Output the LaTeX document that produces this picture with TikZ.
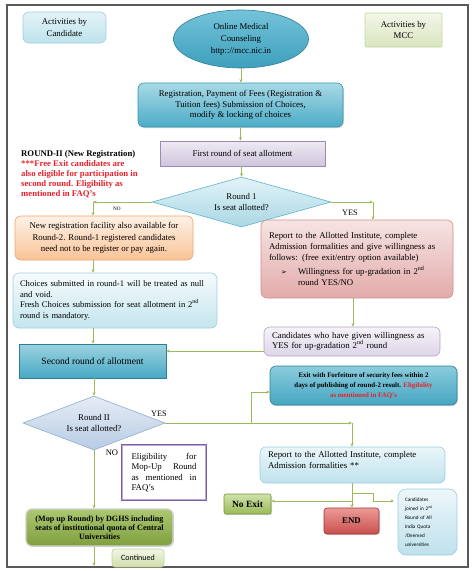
\documentclass[tikz,border=0pt]{standalone}
\usepackage{fontspec}
\setmainfont{Liberation Serif}
\newfontfamily\calibri{Carlito}
\newfontfamily\dejavu{DejaVu Sans}
\usetikzlibrary{arrows.meta,shapes.geometric,shadows}

\definecolor{conn}{HTML}{9BBB59}
\definecolor{framec}{HTML}{595959}
\definecolor{candFa}{HTML}{E4F3F8}\definecolor{candFb}{HTML}{BDE2EC}\definecolor{candD}{HTML}{9CCFDE}
\definecolor{ellFa}{HTML}{74C3DA}\definecolor{ellFb}{HTML}{3E9FBC}\definecolor{ellD}{HTML}{2F7F96}
\definecolor{mccFa}{HTML}{F2F6E8}\definecolor{mccFb}{HTML}{D9E5BF}\definecolor{mccD}{HTML}{C4D79F}
\definecolor{regFa}{HTML}{A9D9E7}\definecolor{regFb}{HTML}{4BACC6}\definecolor{regD}{HTML}{3A93AD}
\definecolor{firstFa}{HTML}{EEEAF3}\definecolor{firstFb}{HTML}{CFC5DD}\definecolor{firstD}{HTML}{9C8CB4}
\definecolor{daFa}{HTML}{E3F3F7}\definecolor{daFb}{HTML}{A9D7E4}\definecolor{daD}{HTML}{5FB4CC}
\definecolor{orFa}{HTML}{FEF1E6}\definecolor{orFb}{HTML}{FAC396}\definecolor{orD}{HTML}{F2A46B}
\definecolor{chFa}{HTML}{F6FBFD}\definecolor{chFb}{HTML}{C4E5EE}\definecolor{chD}{HTML}{9DD0DE}
\definecolor{redFa}{HTML}{F6E4E3}\definecolor{redFb}{HTML}{E2ABAA}\definecolor{redD}{HTML}{D28D8B}
\definecolor{purFa}{HTML}{F6F3F9}\definecolor{purFb}{HTML}{DDD5E7}\definecolor{purD}{HTML}{B4A4C8}
\definecolor{secFa}{HTML}{9CD2E1}\definecolor{secFb}{HTML}{48A9C4}\definecolor{secD}{HTML}{2E7F96}
\definecolor{dbFa}{HTML}{E5ECF5}\definecolor{dbFb}{HTML}{B8CCE4}\definecolor{dbD}{HTML}{8FADD2}
\definecolor{exFa}{HTML}{8BCCDD}\definecolor{exFb}{HTML}{45A6C1}\definecolor{exD}{HTML}{2E7F96}
\definecolor{repFa}{HTML}{EAF6F9}\definecolor{repFb}{HTML}{BFE2EC}\definecolor{repD}{HTML}{9ACFDE}
\definecolor{noFa}{HTML}{CFE1AA}\definecolor{noFb}{HTML}{9BBB59}\definecolor{noD}{HTML}{76923C}
\definecolor{endFa}{HTML}{EC9A97}\definecolor{endFb}{HTML}{C9504D}\definecolor{endD}{HTML}{9B3533}
\definecolor{cjFa}{HTML}{EEF7FB}\definecolor{cjFb}{HTML}{BEE1EC}\definecolor{cjD}{HTML}{9ACFDE}
\definecolor{eligD}{HTML}{7E5FA3}\definecolor{eligI}{HTML}{B9A9CF}
\definecolor{mopFa}{HTML}{ACC872}\definecolor{mopFb}{HTML}{7F9F3E}\definecolor{mopD}{HTML}{D0D0D0}
\definecolor{contFa}{HTML}{F1F6E7}\definecolor{contFb}{HTML}{CEDEAA}\definecolor{contD}{HTML}{C0D496}
\definecolor{redt}{HTML}{E8202A}

\begin{document}
\begin{tikzpicture}[x=1pt,y=-1pt,
  font=\fontsize{8.8}{10.4}\selectfont,
  wh/.style 2 args={minimum width=#1, minimum height=#2},
  base/.style={draw, line width=0.6pt, rounded corners=6pt, inner sep=0pt, align=center, text=black},
  shad/.style={drop shadow={shadow xshift=1pt, shadow yshift=-1.2pt, opacity=0.25, fill=black!60}},
  grad/.style n args={3}{top color=#1, bottom color=#2, draw=#3},
  arr/.style={draw=conn, line width=0.6pt, -{Stealth[length=3.5pt,width=3pt]}},
  lbl/.style={inner sep=0pt}
]
\useasboundingbox (0,0) rectangle (474,571);
\draw[line width=1.1pt, draw=framec] (7,5) rectangle (468,567);

% top row
\node[base, grad={candFa}{candFb}{candD}, wh={83}{31}, font=\fontsize{8.8}{11.5}\selectfont] (cand) at (64.5,27.5) {Activities by\\Candidate};
\node[ellipse, draw, line width=0.6pt, inner sep=0pt, align=center, grad={ellFa}{ellFb}{ellD}, wh={135}{58}, font=\fontsize{8.8}{12}\selectfont] (online) at (241,39) {Online Medical\\Counseling\\http:://mcc.nic.in};
\node[base, rounded corners=1pt, grad={mccFa}{mccFb}{mccD}, wh={77}{34}, font=\fontsize{8.8}{11.5}\selectfont] (mcc) at (403.5,30) {Activities by\\MCC};

\node[base, shad, grad={regFa}{regFb}{regD}, wh={205}{44}] (reg) at (240.5,105) {Registration, Payment of Fees (Registration \&\\Tuition fees) Submission of Choices,\\modify \& locking of choices};
\node[base, rounded corners=0pt, shad, grad={firstFa}{firstFb}{firstD}, wh={165}{25}] (first) at (242.5,153.5) {First round of seat allotment};

\node[diamond, draw, line width=0.6pt, inner sep=0pt, align=center, aspect=3.58, grad={daFa}{daFb}{daD}, wh={179}{50}] (d1) at (241.5,202) {Round 1\\Is seat allotted?};

% note
\node[lbl, anchor=north west, align=left, font=\bfseries\fontsize{8.7}{10}\selectfont] (note) at (21,150) {ROUND-II (New Registration)\\\textcolor{redt}{***Free Exit candidates are}\\\textcolor{redt}{also eligible for participation in}\\\textcolor{redt}{second round. Eligibility as}\\\textcolor{redt}{mentioned in FAQ’s}};

\node[base, grad={orFa}{orFb}{orD}, wh={178}{44}, font=\fontsize{8.8}{11.3}\selectfont] (newreg) at (104,238) {New registration facility also available for\\Round-2. Round-1 registered candidates\\need not to be register or pay again.};

\node[base, grad={chFa}{chFb}{chD}, wh={204}{55}, text width=190, align=left, font=\fontsize{8.6}{10.4}\selectfont] (choices) at (115,300.5) {Choices submitted in round-1 will be treated as null\\and void.\\Fresh Choices submission for seat allotment in 2\textsuperscript{nd}\\round is mandatory.};

\node[base, grad={redFa}{redFb}{redD}, wh={192}{78}, text width=176, align=left, font=\fontsize{8.8}{11}\selectfont] (rep1) at (357,259) {Report to the Allotted Institute, complete\\Admission formalities and give willingness as\\follows: (free exit/entry option available)\\[3pt]\hspace*{12pt}\makebox[17pt][l]{\dejavu\fontsize{7}{8}\selectfont ➢}Willingness for up-gradation in 2\textsuperscript{nd}\\\hspace*{29pt}round YES/NO};

\node[base, grad={purFa}{purFb}{purD}, wh={176}{29}, text width=160, align=left] (will) at (352,341.5) {Candidates who have given willingness as\\YES for up-gradation 2\textsuperscript{nd} round};

\node[base, rounded corners=0pt, shad, grad={secFa}{secFb}{secD}, wh={147}{34}, font=\fontsize{9.6}{11}\selectfont] (second) at (92.5,361) {Second round of allotment};

\node[diamond, draw, line width=0.6pt, inner sep=0pt, align=center, aspect=2.63, grad={dbFa}{dbFb}{dbD}, wh={142}{54}] (d2) at (94,423) {Round II\\Is seat allotted?};

\node[base, shad, grad={exFa}{exFb}{exD}, wh={187}{39}, font=\bfseries\fontsize{6.9}{10}\selectfont] (exit) at (363.5,385.5) {Exit with Forfeiture of security fees within 2\\days of publishing of round-2 result. \textcolor{redt}{Eligibility}\\\textcolor{redt}{as mentioned in FAQ’s}};

\node[base, grad={repFa}{repFb}{repD}, wh={185}{36}, text width=169, align=left] (rep2) at (352.5,465) {Report to the Allotted Institute, complete\\Admission formalities **\\\mbox{}};

\node[base, rounded corners=2pt, shad, grad={noFa}{noFb}{noD}, wh={47}{20}, font=\bfseries\fontsize{9.5}{11}\selectfont] (noexit) at (247.5,504) {No Exit};
\node[base, rounded corners=3pt, shad, grad={endFa}{endFb}{endD}, wh={55}{26}, font=\bfseries\fontsize{8.8}{10}\selectfont] (end) at (351.5,521) {END};

\node[base, rounded corners=8pt, grad={cjFa}{cjFb}{cjD}, wh={59}{66}, text width=45, align=left, font=\calibri\fontsize{5.2}{9}\selectfont] (cjoin) at (427.5,522) {Candidates\\joined in 2\textsuperscript{nd}\\Round of All\\India Quota\\/Deemed\\universities};

\node[draw=eligD, line width=2.2pt, fill=white, inner sep=0pt, wh={84}{55}, text width=65, align=left] (elig) at (164,472.5) {Eligibility\hfill for\\Mop-Up\hfill Round\\as\hfill mentioned\hfill in\\FAQ’s};
\draw[eligI, line width=0.5pt] ([xshift=1.6pt,yshift=-1.6pt]elig.north west) rectangle ([xshift=-1.6pt,yshift=1.6pt]elig.south east);

\node[base, draw=mopD, line width=1.2pt, shad, top color=mopFa, bottom color=mopFb, wh={147}{37}, font=\bfseries\fontsize{8.1}{9.2}\selectfont] (mop) at (99.5,527.5) {(Mop up Round) by DGHS including\\seats of institutional quota of Central\\Universities};

\node[base, rounded corners=3pt, grad={contFa}{contFb}{contD}, wh={52}{18}, font=\calibri\fontsize{8}{9}\selectfont] (cont) at (138,558) {Continued};

% labels
\node[lbl, font=\fontsize{5.2}{6}\selectfont] (no1) at (117,209) {NO};
\node[lbl, font=\fontsize{8.3}{9}\selectfont] (yes1) at (350,213) {YES};
\node[lbl, font=\fontsize{8.3}{9}\selectfont] (yes2) at (159,414) {YES};
\node[lbl, font=\fontsize{8.5}{9}\selectfont] (no2) at (112,453) {NO};

% coordinates
\coordinate (n1) at (93,202);
\coordinate (y1) at (373,202);
\coordinate (rx) at (353,0);
\coordinate (wy) at (0,351);
\coordinate (y2) at (352,423);
\coordinate (b2) at (251,423);
\coordinate (ey) at (0,392);
\coordinate (rx2) at (352,0);
\coordinate (ny) at (0,501);
\coordinate (by) at (0,493);
\coordinate (kx) at (373,0);
\coordinate (cjin) at (394,501);
\coordinate (mopend) at (94,566);

% connectors
\draw[arr] (online.south) -- (online.south |- reg.north);
\draw[arr] (reg.south) -- (reg.south |- first.north);
\draw[arr] (d1.north |- first.south) -- (d1.north);
\draw[arr] (d1.west) -- (n1);
\draw[arr] (n1) -- (n1 |- newreg.north);
\draw[arr] (d1.east) -- (y1);
\draw[arr] (y1) -- (y1 |- rep1.north);
\draw[arr] (n1 |- newreg.south) -- (n1 |- choices.north);
\draw[arr] (n1 |- choices.south) -- (n1 |- second.north);
\draw[arr] (rx |- rep1.south) -- (rx |- will.north);
\draw[arr] (will.west |- wy) -- (second.east |- wy);
\draw[arr] (d2.north |- second.south) -- (d2.north);
\draw[arr] (d2.east) -- (y2);
\draw[arr] (y2) -- (y2 |- rep2.north);
\draw[arr] (b2) |- (exit.west |- ey);
\draw[arr] (d2.south) -- (d2.south |- mop.north);
\draw[arr] (d2.south |- mop.south) -- (mopend);
\draw[arr] (rx2 |- rep2.south) -- (rx2 |- end.north);
\draw[arr] (rx2 |- ny) -- (noexit.east |- ny);
\draw[arr] (rx2 |- by) -- (kx |- by) -- (kx |- ny) -- (cjin);
\end{tikzpicture}
\end{document}
